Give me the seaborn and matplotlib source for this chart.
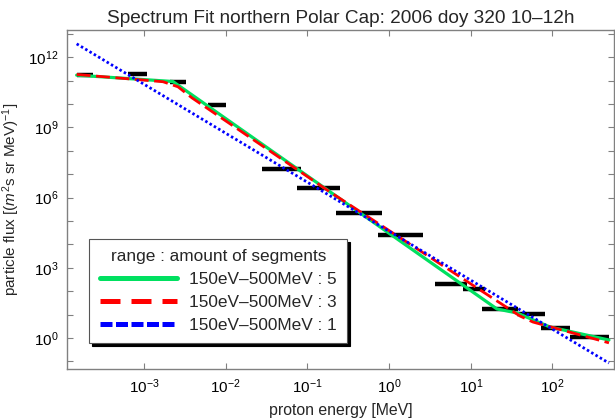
import numpy as np
import pandas as pd
import matplotlib
matplotlib.use("Agg")
import matplotlib.pyplot as plt
from matplotlib.lines import Line2D
from matplotlib.ticker import NullFormatter, FixedLocator
import seaborn as sns

# ---------------- data (energies in MeV, flux in (m^2 s sr MeV)^-1) ----------------
bin_lo = [1.5e-4, 6.4e-4, 2.08e-3, 6.07e-3, 2.78e-2, 7.46e-2, 0.224, 0.731, 3.65, 8.04, 13.7, 36.8, 72.3, 164.0]
bin_hi = [2.4e-4, 1.09e-3, 3.27e-3, 1.01e-2, 8.36e-2, 0.251, 0.818, 2.60, 8.97, 14.9, 37.8, 80.9, 164.0, 491.0]
bin_flux = [1.74e11, 1.95e11, 8.5e10, 9.1e9, 1.74e7, 2.5e6, 2.1e5, 2.5e4, 204.0, 126.0, 17.0, 10.7, 2.7, 1.05]

fit5_e = [1.5e-4, 2.26e-3, 20.9, 36.8, 93.1, 491.0]
fit5_f = [1.70e11, 9.1e10, 17.4, 11.7, 2.95, 0.82]

fit3_e = [1.5e-4, 1.71e-3, 2.61e-3, 3.87e-3, 0.189, 40.0, 57.7, 491.0]
fit3_f = [1.82e11, 8.9e10, 5.4e10, 1.82e10, 1.74e6, 8.7, 4.8, 0.62]

fit1_e = [1.5e-4, 491.0]
fit1_f = [3.7e12, 0.085]

title = "Spectrum Fit northern Polar Cap: 2006 doy 320 10\u201312h"
legend_title = "range : amount of segments"
legend_labels = ["150eV\u2013500MeV : 5", "150eV\u2013500MeV : 3", "150eV\u2013500MeV : 1"]

# ---------------- style ----------------
sns.set_theme(style="white")
plt.rcParams["font.family"] = ["Liberation Sans", "DejaVu Sans"]
plt.rcParams["mathtext.fontset"] = "custom"
plt.rcParams["mathtext.rm"] = "Liberation Sans"
plt.rcParams["mathtext.it"] = "Liberation Sans:italic"
plt.rcParams["mathtext.bf"] = "Liberation Sans:bold"
plt.rcParams["mathtext.default"] = "regular"
plt.rcParams["axes.unicode_minus"] = True

fig = plt.figure(figsize=(6.15, 4.18), dpi=100)
fig.patch.set_facecolor("white")
ax = fig.add_axes([67 / 615, (418 - 369) / 418, 547 / 615, 339 / 418])
ax.set_facecolor("white")

ax.set_xscale("log")
ax.set_yscale("log")

# data bins (black horizontal bars)
ax.hlines(bin_flux, bin_lo, bin_hi, colors="black", linewidth=3.2, zorder=2)

green = "#00e060"
red = "#ff0000"
blue = "#0000ff"

df5 = pd.DataFrame({"energy": fit5_e, "flux": fit5_f})
df3 = pd.DataFrame({"energy": fit3_e, "flux": fit3_f})
df1 = pd.DataFrame({"energy": fit1_e, "flux": fit1_f})

sns.lineplot(data=df5, x="energy", y="flux", ax=ax, color=green, linewidth=2.3, zorder=3)
sns.lineplot(data=df3, x="energy", y="flux", ax=ax, color=red, linewidth=2.0, zorder=4)
ax.lines[-1].set_dashes((5, 2))
sns.lineplot(data=df1, x="energy", y="flux", ax=ax, color=blue, linewidth=2.0, zorder=5)
ax.lines[-1].set_dashes((0.9, 0.9))

ax.set_xlim(10 ** -3.942, 10 ** 2.753)
ax.set_ylim(10 ** -1.325, 10 ** 13.16)

# ticks
ax.xaxis.set_major_locator(FixedLocator([1e-3, 1e-2, 1e-1, 1e0, 1e1, 1e2]))
ax.xaxis.set_minor_locator(FixedLocator([]))
ax.yaxis.set_major_locator(FixedLocator([1e0, 1e3, 1e6, 1e9, 1e12]))
ax.yaxis.set_minor_locator(FixedLocator([10.0 ** k for k in range(-1, 14) if k % 3 != 0]))
ax.yaxis.set_minor_formatter(NullFormatter())
ax.xaxis.set_minor_formatter(NullFormatter())

spine_col = "#808080"
for s in ax.spines.values():
    s.set_visible(True)
    s.set_color(spine_col)
    s.set_linewidth(1.0)
ax.tick_params(which="both", direction="in", top=True, right=True, bottom=True, left=True,
               color=spine_col, length=4, width=0.8, labelsize=11, labelcolor="black", pad=6)

ax.set_xlabel("proton energy [MeV]", fontsize=11.4, labelpad=5)
ax.set_ylabel(r"particle flux [($\mathit{m}^2$s sr MeV)$^{-1}$]", fontsize=11)
ax.yaxis.set_label_coords((22.5 - 67) / 547, 0.5)
ax.set_title(title, fontsize=13.7, pad=5)

handles = [
    Line2D([], [], color=green, linewidth=3.6),
    Line2D([], [], color=red, linewidth=3.6, dashes=(4, 2.2)),
    Line2D([], [], color=blue, linewidth=3.6, dashes=(2.4, 0.7)),
]
leg = ax.legend(handles, legend_labels, title=legend_title, loc="lower left",
                bbox_to_anchor=(0.041, 0.076), borderaxespad=0, fontsize=12.4,
                title_fontsize=12.4, frameon=True, fancybox=False,
                shadow={"color": "black", "alpha": 1.0},
                handlelength=4.5, handletextpad=0.7, labelspacing=0.45,
                borderpad=0.6)
leg.get_frame().set_edgecolor("#555555")
leg.get_frame().set_linewidth(0.8)
leg.get_frame().set_facecolor("white")
leg.get_frame().set_alpha(1.0)

fig.savefig("out.png", dpi=100, facecolor="white")
